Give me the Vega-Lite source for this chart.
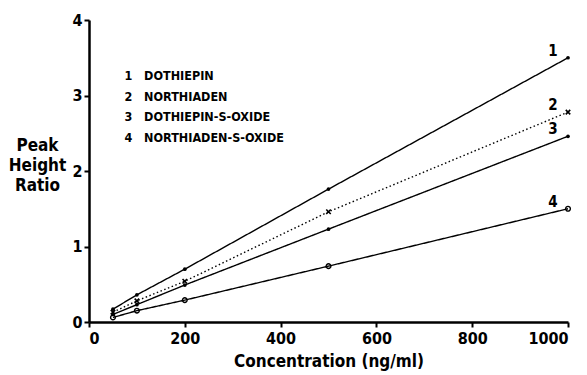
{
  "$schema": "https://vega.github.io/schema/vega-lite/v6.json",
  "width": 479,
  "height": 302,
  "autosize": {"type": "none"},
  "padding": {"left": 89, "top": 20, "right": 19, "bottom": 53},
  "background": "white",
  "data": {
    "values": [
      {"series": "1", "label": "1\u00a0\u00a0\u00a0DOTHIEPIN", "conc": 50, "ratio": 0.17},
      {"series": "1", "label": "1\u00a0\u00a0\u00a0DOTHIEPIN", "conc": 100, "ratio": 0.36},
      {"series": "1", "label": "1\u00a0\u00a0\u00a0DOTHIEPIN", "conc": 200, "ratio": 0.70},
      {"series": "1", "label": "1\u00a0\u00a0\u00a0DOTHIEPIN", "conc": 500, "ratio": 1.76},
      {"series": "1", "label": "1\u00a0\u00a0\u00a0DOTHIEPIN", "conc": 1000, "ratio": 3.50},
      {"series": "2", "label": "2\u00a0\u00a0\u00a0NORTHIADEN", "conc": 50, "ratio": 0.13},
      {"series": "2", "label": "2\u00a0\u00a0\u00a0NORTHIADEN", "conc": 100, "ratio": 0.28},
      {"series": "2", "label": "2\u00a0\u00a0\u00a0NORTHIADEN", "conc": 200, "ratio": 0.54},
      {"series": "2", "label": "2\u00a0\u00a0\u00a0NORTHIADEN", "conc": 500, "ratio": 1.46},
      {"series": "2", "label": "2\u00a0\u00a0\u00a0NORTHIADEN", "conc": 1000, "ratio": 2.78},
      {"series": "3", "label": "3\u00a0\u00a0\u00a0DOTHIEPIN-S-OXIDE", "conc": 50, "ratio": 0.10},
      {"series": "3", "label": "3\u00a0\u00a0\u00a0DOTHIEPIN-S-OXIDE", "conc": 100, "ratio": 0.23},
      {"series": "3", "label": "3\u00a0\u00a0\u00a0DOTHIEPIN-S-OXIDE", "conc": 200, "ratio": 0.49},
      {"series": "3", "label": "3\u00a0\u00a0\u00a0DOTHIEPIN-S-OXIDE", "conc": 500, "ratio": 1.23},
      {"series": "3", "label": "3\u00a0\u00a0\u00a0DOTHIEPIN-S-OXIDE", "conc": 1000, "ratio": 2.46},
      {"series": "4", "label": "4\u00a0\u00a0\u00a0NORTHIADEN-S-OXIDE", "conc": 50, "ratio": 0.06},
      {"series": "4", "label": "4\u00a0\u00a0\u00a0NORTHIADEN-S-OXIDE", "conc": 100, "ratio": 0.15},
      {"series": "4", "label": "4\u00a0\u00a0\u00a0NORTHIADEN-S-OXIDE", "conc": 200, "ratio": 0.29},
      {"series": "4", "label": "4\u00a0\u00a0\u00a0NORTHIADEN-S-OXIDE", "conc": 500, "ratio": 0.74},
      {"series": "4", "label": "4\u00a0\u00a0\u00a0NORTHIADEN-S-OXIDE", "conc": 1000, "ratio": 1.50}
    ]
  },
  "encoding": {
    "x": {
      "field": "conc", "type": "quantitative",
      "scale": {"domain": [0, 1000], "nice": false, "zero": true},
      "axis": {
        "title": "Concentration (ng/ml)",
        "values": [0, 200, 400, 600, 800, 1000],
        "format": "d",
        "titleY": 39, "titleBaseline": "middle", "titleFontSize": 17,
        "labelPadding": 3
      }
    },
    "y": {
      "field": "ratio", "type": "quantitative",
      "scale": {"domain": [0, 4], "nice": false},
      "axis": {
        "title": ["Peak", "Height", "Ratio"],
        "values": [0, 1, 2, 3, 4],
        "titleAngle": 0, "titleAlign": "center", "titleBaseline": "top",
        "titleX": -52, "titleY": 117, "titleFontSize": 17, "titleLineHeight": 20,
        "labelPadding": 2
      }
    }
  },
  "layer": [
    {
      "mark": {"type": "line", "color": "black", "strokeWidth": 1.4},
      "encoding": {
        "detail": {"field": "series"},
        "strokeDash": {
          "field": "label", "type": "nominal",
          "scale": {
            "domain": ["1\u00a0\u00a0\u00a0DOTHIEPIN", "2\u00a0\u00a0\u00a0NORTHIADEN", "3\u00a0\u00a0\u00a0DOTHIEPIN-S-OXIDE", "4\u00a0\u00a0\u00a0NORTHIADEN-S-OXIDE"],
            "range": [[1, 0], [1.5, 2.5], [1, 0], [1, 0]]
          },
          "legend": {
            "title": null, "orient": "none", "legendX": 23, "legendY": 50,
            "symbolSize": 0, "symbolStrokeWidth": 0, "symbolOpacity": 0,
            "labelOffset": 0, "labelFontSize": 12.5, "labelFont": "DejaVu Sans Condensed, Liberation Sans Narrow, DejaVu Sans",
            "labelFontWeight": "bold", "labelColor": "black", "rowPadding": 7.5, "labelLimit": 300
          }
        }
      }
    },
    {
      "transform": [{"filter": "datum.series == '1' || datum.series == '3'"}],
      "mark": {"type": "point", "filled": true, "color": "black", "size": 14, "opacity": 1}
    },
    {
      "transform": [{"filter": "datum.series == '2'"}],
      "mark": {"type": "point", "shape": "M-1,-1L1,1M1,-1L-1,1", "filled": false, "color": "black", "size": 20, "strokeWidth": 1.6, "opacity": 1}
    },
    {
      "transform": [{"filter": "datum.series == '4'"}],
      "mark": {"type": "point", "shape": "circle", "filled": false, "color": "black", "size": 22, "strokeWidth": 1.4, "opacity": 1}
    },
    {
      "transform": [{"filter": "datum.conc == 1000"}],
      "mark": {"type": "text", "dx": -15, "dy": -7, "fontSize": 15, "fontWeight": "bold", "color": "black", "font": "DejaVu Sans Condensed, Liberation Sans Narrow, DejaVu Sans"},
      "encoding": {"text": {"field": "series"}}
    }
  ],
  "config": {
    "view": {"stroke": null},
    "axis": {
      "grid": false,
      "domainColor": "black", "domainWidth": 2.5,
      "tickColor": "black", "tickWidth": 2, "tickSize": 5,
      "labelFont": "DejaVu Sans Condensed, Liberation Sans Narrow, DejaVu Sans",
      "labelFontSize": 16, "labelFontWeight": "bold", "labelColor": "black",
      "titleFont": "DejaVu Sans Condensed, Liberation Sans Narrow, DejaVu Sans",
      "titleFontWeight": "bold", "titleColor": "black"
    }
  }
}
